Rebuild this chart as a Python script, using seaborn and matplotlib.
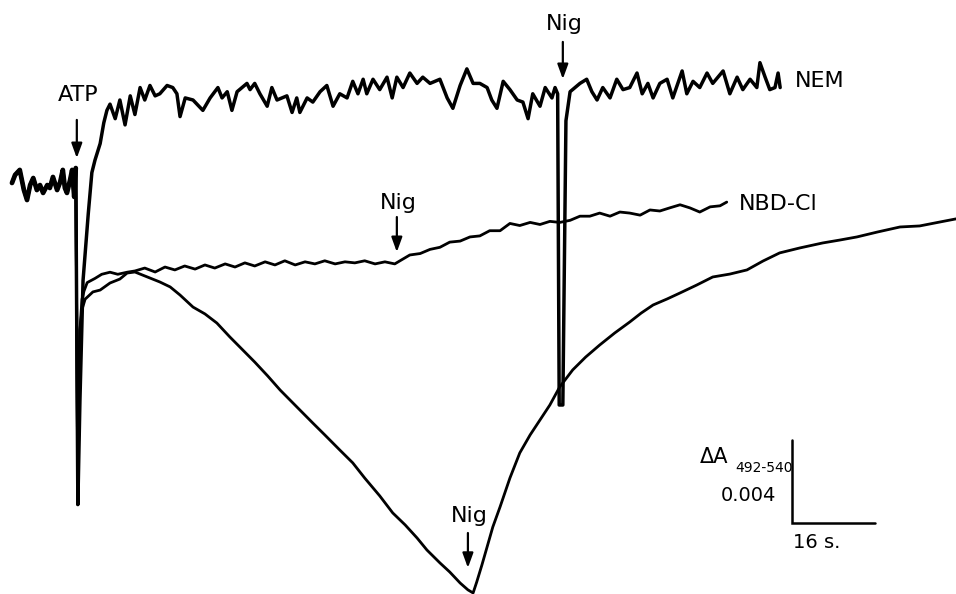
import numpy as np
import pandas as pd
import seaborn as sns
import matplotlib
matplotlib.use('Agg')
import matplotlib.pyplot as plt

sns.set_style('white')
plt.rcParams['font.family'] = ['DejaVu Sans']
plt.rcParams['text.color'] = 'black'

# recorder traces: (time in s, change in A492-540 x 1000)
# baseline before ATP plus the mixing spike, common to all three traces
baseline = [(0, 0), (0.6, 0.39), (1.5, 0.63), (2.3, -0.34), (2.9, -0.82), (3.5, -0.10),
            (4.1, 0.24), (4.8, -0.34), (5.4, -0.10), (6.0, -0.48), (6.8, -0.10), (7.3, -0.24),
            (7.9, 0.29), (8.7, -0.34), (9.3, 0.05), (9.8, 0.63), (10.2, -0.24), (10.6, -0.48),
            (11.2, 0.14), (11.6, 0.63), (12.0, -0.67), (12.3, 0.72), (12.7, -15.5)]

nem = [(13.1, -10.5), (13.7, -4.7), (14.7, -1.5), (15.4, 0.5), (16.0, 1.1), (17.0, 1.9), (17.7, 2.9),
       (18.3, 3.5), (18.9, 3.8), (19.9, 3.1), (20.8, 4.0), (21.8, 2.8), (22.8, 4.2), (23.7, 3.3),
       (24.7, 4.6), (25.6, 4.0), (26.6, 4.7), (27.6, 4.2), (28.5, 4.3), (29.9, 4.7), (31.0, 4.6),
       (31.8, 4.3), (32.4, 3.2), (33.4, 4.1), (34.9, 4.0), (36.8, 3.5), (38.2, 4.1), (39.7, 4.6),
       (40.5, 4.1), (41.5, 4.4), (42.4, 3.5), (43.4, 4.4), (45.3, 4.8), (45.9, 4.5), (46.8, 4.8),
       (47.8, 4.3), (49.2, 3.7), (50.1, 4.6), (51.1, 4.0), (53.0, 4.2), (54.0, 3.4), (54.9, 4.1),
       (55.5, 3.4), (56.9, 4.1), (58.0, 3.9), (59.4, 4.4), (60.7, 4.7), (61.9, 3.7), (63.2, 4.3),
       (64.6, 4.1), (65.7, 4.9), (66.7, 4.3), (67.7, 5.0), (68.4, 4.3), (69.6, 5.0), (70.9, 4.5),
       (72.3, 5.1), (73.3, 4.1), (74.2, 5.1), (75.4, 4.6), (76.7, 5.3), (78.1, 4.8), (79.2, 5.1),
       (80.6, 4.8), (82.5, 5.0), (83.9, 4.1), (85.0, 3.6), (86.4, 4.7), (87.7, 5.5), (88.9, 4.8),
       (90.2, 4.8), (91.6, 4.6), (92.5, 4.0), (93.5, 3.6), (94.7, 4.9), (96.0, 4.5), (97.4, 4.0),
       (98.5, 3.9), (99.5, 3.1), (100.4, 4.3), (101.8, 3.7), (102.8, 4.6), (104.1, 4.1), (104.7, 4.6),
       (105.2, 4.3), (105.5, -10.7), (106.2, -10.7), (106.8, 3.0), (107.6, 4.4), (109.5, 4.8),
       (110.8, 5.0), (111.8, 4.4), (112.8, 4.0), (113.9, 4.6), (115.3, 4.1), (116.6, 5.0), (117.8, 4.5),
       (119.1, 4.6), (120.5, 5.3), (121.5, 4.3), (122.6, 4.8), (123.6, 4.1), (124.9, 4.8), (126.3, 5.0),
       (127.4, 4.1), (129.2, 5.4), (130.1, 4.3), (131.3, 4.9), (132.6, 4.6), (134.0, 5.3), (135.1, 4.8),
       (137.1, 5.4), (138.4, 4.3), (139.8, 5.1), (140.9, 4.5), (142.3, 5.0), (143.6, 4.6), (144.2, 5.8),
       (145.2, 5.1), (146.1, 4.5), (147.1, 4.6), (147.7, 5.3), (148.1, 4.6)]

nbd_cl = [(13.1, -7.1), (13.5, -5.6), (13.9, -5.2), (14.5, -4.8), (16.0, -4.6), (17.3, -4.4),
          (18.9, -4.3), (20.4, -4.4), (22.2, -4.3), (23.7, -4.24), (25.6, -4.10), (27.6, -4.29),
          (29.5, -4.05), (31.4, -4.19), (33.3, -4.00), (35.3, -4.15), (37.2, -3.95), (39.1, -4.10),
          (41.1, -3.90), (43.0, -4.05), (44.9, -3.85), (46.8, -4.00), (48.8, -3.80), (50.7, -3.95),
          (52.6, -3.75), (54.6, -3.95), (56.5, -3.80), (58.4, -3.90), (60.3, -3.75), (62.3, -3.90),
          (64.2, -3.80), (66.1, -3.85), (68.0, -3.75), (70.0, -3.90), (71.9, -3.80), (73.8, -3.90),
          (74.8, -3.75), (76.7, -3.47), (78.7, -3.40), (80.6, -3.20), (82.5, -3.10), (84.4, -2.85),
          (86.4, -2.80), (88.3, -2.60), (90.2, -2.55), (92.1, -2.30), (94.1, -2.30), (96.0, -1.95),
          (97.9, -2.05), (99.9, -1.90), (101.8, -2.00), (103.7, -1.85), (105.6, -1.90), (107.6, -1.80),
          (109.5, -1.60), (111.4, -1.60), (113.3, -1.45), (115.3, -1.60), (117.2, -1.40), (119.1, -1.45),
          (121.1, -1.55), (123.0, -1.30), (124.9, -1.35), (126.8, -1.20), (128.8, -1.05), (130.7, -1.20),
          (132.6, -1.40), (134.6, -1.15), (136.5, -1.10), (137.8, -0.92)]

control = [(13.1, -7.1), (13.5, -6.1), (14.1, -5.6), (15.6, -5.25), (17.0, -5.16), (18.9, -4.82),
           (20.8, -4.63), (22.2, -4.34), (23.7, -4.29), (26.6, -4.58), (28.5, -4.77), (30.5, -5.01),
           (32.4, -5.40), (34.9, -5.98), (37.2, -6.31), (39.5, -6.75), (42.0, -7.42), (44.5, -8.05),
           (46.8, -8.63), (49.3, -9.30), (51.7, -9.98), (53.6, -10.46), (55.5, -10.94), (58.0, -11.57),
           (60.3, -12.14), (63.2, -12.87), (65.7, -13.49), (68.0, -14.22), (70.9, -15.08), (73.4, -15.90),
           (75.8, -16.48), (78.1, -17.11), (80.0, -17.69), (82.5, -18.31), (84.4, -18.75), (86.4, -19.28),
           (87.9, -19.61), (88.9, -19.76), (89.6, -19.23), (90.6, -18.41), (91.6, -17.54), (92.7, -16.58),
           (94.1, -15.61), (96.0, -14.22), (97.9, -13.01), (99.9, -12.14), (101.8, -11.42), (103.7, -10.70),
           (105.6, -9.83), (108.1, -9.01), (110.6, -8.39), (113.3, -7.81), (116.2, -7.23), (119.1, -6.70),
           (121.3, -6.27), (123.6, -5.88), (126.3, -5.59), (128.8, -5.30), (132.0, -4.92), (135.1, -4.53),
           (138.4, -4.39), (141.7, -4.19), (144.8, -3.76), (148.0, -3.37), (151.9, -3.13), (156.3, -2.89),
           (159.6, -2.75), (162.9, -2.60), (166.9, -2.36), (171.2, -2.12), (175.0, -2.07), (178.9, -1.88),
           (182.0, -1.73)]

# additions: (label, time of arrow, text height, arrow top, arrow tip)
additions = [('ATP', 12.5, 4.24, 3.04, 1.20),
             ('Nig', 106.2, 7.66, 6.80, 5.01),
             ('Nig', 74.2, -0.96, -1.64, -3.33),
             ('Nig', 87.9, -16.05, -16.87, -18.55)]

scale_time = 16      # s
scale_dA = 4         # x 0.001

frames = []
for name, trace in [('NEM', nem), ('NBD-Cl', nbd_cl), ('control', control)]:
    d = pd.DataFrame(baseline + trace, columns=['time', 'dA'])
    d['trace'] = name
    frames.append(d)
df = pd.concat(frames, ignore_index=True)

fig = plt.figure(figsize=(9.56, 5.94), dpi=100)
ax = fig.add_axes([0, 0, 1, 1])

sns.lineplot(data=df, x='time', y='dA', hue='trace', palette=['black'] * 3,
             size='trace', sizes={'NEM': 2.5, 'NBD-Cl': 2.0, 'control': 2.0},
             estimator=None, sort=False, legend=False, ax=ax)
base = pd.DataFrame(baseline[:-1], columns=['time', 'dA'])
sns.lineplot(data=base, x='time', y='dA', color='black', lw=3.4,
             estimator=None, sort=False, ax=ax)

ax.set_xlim(-2.31, 182.0)
ax.set_ylim(-19.81, 8.82)
ax.set_axis_off()

fs = 16
for label, t, ty, a0, a1 in additions:
    ax.text(t + 0.3, ty, label, ha='center', va='center', fontsize=fs)
    ax.annotate('', xy=(t, a1), xytext=(t, a0),
                arrowprops=dict(arrowstyle='-|>,head_length=0.55,head_width=0.2',
                                color='black', lw=1.6, mutation_scale=16,
                                shrinkA=0, shrinkB=0))

ax.text(150.9, 4.92, 'NEM', ha='left', va='center', fontsize=fs)
ax.text(140.1, -1.01, 'NBD-Cl', ha='left', va='center', fontsize=fs)

# calibration bars
t0, a0 = 150.4, -16.39
ax.plot([t0, t0, t0 + scale_time], [a0 + scale_dA, a0, a0], color='black', lw=1.8,
        solid_joinstyle='miter')
ax.text(132.6, -13.2, 'ΔA', ha='left', va='center', fontsize=15)
ax.text(139.4, -13.75, '492-540', ha='left', va='center', fontsize=10)
ax.text(141.9, -15.04, '0.004', ha='center', va='center', fontsize=14)
ax.text(150.6, -17.35, '16 s.', ha='left', va='center', fontsize=14)

fig.savefig('out.png', dpi=100)
